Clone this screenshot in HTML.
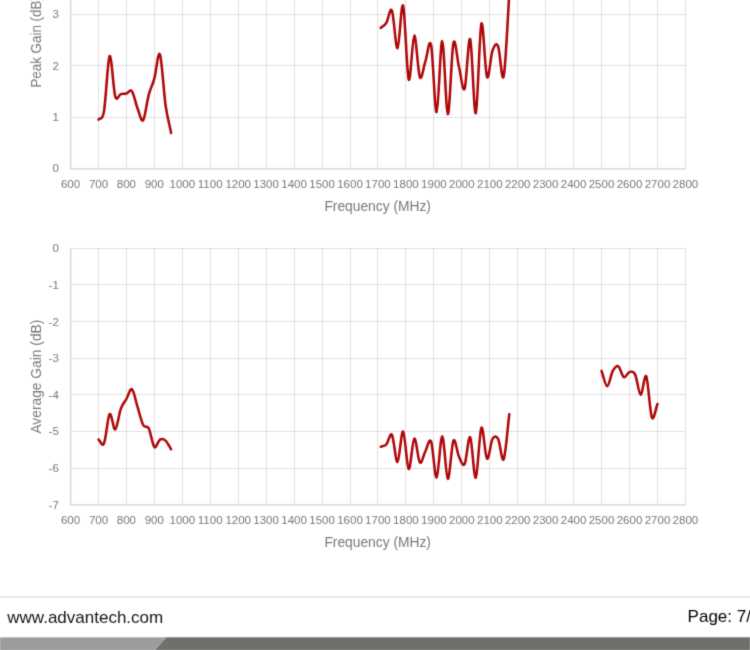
<!DOCTYPE html>
<html><head><meta charset="utf-8"><style>
html,body{margin:0;padding:0;background:#fff;width:750px;height:650px;overflow:hidden}
svg{position:absolute;left:0;top:0;display:block}
.lb{font-family:"Liberation Sans",sans-serif;font-size:11.5px;fill:#787878}
.tt{font-family:"Liberation Sans",sans-serif;font-size:13.8px;fill:#787878}
.ft{font-family:"Liberation Sans",sans-serif;font-size:17.0px}
</style></head><body>
<svg width="750" height="650" viewBox="0 0 750 650">
<defs><filter id="bl" x="-1%" y="-1%" width="102%" height="102%" color-interpolation-filters="sRGB"><feConvolveMatrix order="3" kernelMatrix="0.02 0.1 0.02 0.1 0.52 0.1 0.02 0.1 0.02" preserveAlpha="false" edgeMode="duplicate"/></filter></defs>
<g filter="url(#bl)"><rect x="-10" y="-10" width="770" height="670" fill="#fff"/>
<line x1="98.5" y1="-50" x2="98.5" y2="168.5" stroke="#e0e0e0" stroke-width="1"/><line x1="126.5" y1="-50" x2="126.5" y2="168.5" stroke="#e0e0e0" stroke-width="1"/><line x1="154.5" y1="-50" x2="154.5" y2="168.5" stroke="#e0e0e0" stroke-width="1"/><line x1="182.5" y1="-50" x2="182.5" y2="168.5" stroke="#e0e0e0" stroke-width="1"/><line x1="210.5" y1="-50" x2="210.5" y2="168.5" stroke="#e0e0e0" stroke-width="1"/><line x1="238.5" y1="-50" x2="238.5" y2="168.5" stroke="#e0e0e0" stroke-width="1"/><line x1="266.5" y1="-50" x2="266.5" y2="168.5" stroke="#e0e0e0" stroke-width="1"/><line x1="294.5" y1="-50" x2="294.5" y2="168.5" stroke="#e0e0e0" stroke-width="1"/><line x1="322.5" y1="-50" x2="322.5" y2="168.5" stroke="#e0e0e0" stroke-width="1"/><line x1="350.5" y1="-50" x2="350.5" y2="168.5" stroke="#e0e0e0" stroke-width="1"/><line x1="377.5" y1="-50" x2="377.5" y2="168.5" stroke="#e0e0e0" stroke-width="1"/><line x1="405.5" y1="-50" x2="405.5" y2="168.5" stroke="#e0e0e0" stroke-width="1"/><line x1="433.5" y1="-50" x2="433.5" y2="168.5" stroke="#e0e0e0" stroke-width="1"/><line x1="461.5" y1="-50" x2="461.5" y2="168.5" stroke="#e0e0e0" stroke-width="1"/><line x1="489.5" y1="-50" x2="489.5" y2="168.5" stroke="#e0e0e0" stroke-width="1"/><line x1="517.5" y1="-50" x2="517.5" y2="168.5" stroke="#e0e0e0" stroke-width="1"/><line x1="545.5" y1="-50" x2="545.5" y2="168.5" stroke="#e0e0e0" stroke-width="1"/><line x1="573.5" y1="-50" x2="573.5" y2="168.5" stroke="#e0e0e0" stroke-width="1"/><line x1="601.5" y1="-50" x2="601.5" y2="168.5" stroke="#e0e0e0" stroke-width="1"/><line x1="629.5" y1="-50" x2="629.5" y2="168.5" stroke="#e0e0e0" stroke-width="1"/><line x1="657.5" y1="-50" x2="657.5" y2="168.5" stroke="#e0e0e0" stroke-width="1"/><line x1="685.5" y1="-50" x2="685.5" y2="168.5" stroke="#e0e0e0" stroke-width="1"/><line x1="70.5" y1="117.5" x2="685.5" y2="117.5" stroke="#e0e0e0" stroke-width="1"/><line x1="70.5" y1="65.5" x2="685.5" y2="65.5" stroke="#e0e0e0" stroke-width="1"/><line x1="70.5" y1="14.5" x2="685.5" y2="14.5" stroke="#e0e0e0" stroke-width="1"/><line x1="70.5" y1="-36.5" x2="685.5" y2="-36.5" stroke="#e0e0e0" stroke-width="1"/><line x1="70.75" y1="-50" x2="70.75" y2="169.5" stroke="#d9d9d9" stroke-width="1.5"/><line x1="70" y1="168.75" x2="686.0" y2="168.75" stroke="#d9d9d9" stroke-width="1.5"/><text x="58.8" y="172.2" text-anchor="end" class="lb">0</text><text x="58.8" y="120.9" text-anchor="end" class="lb">1</text><text x="58.8" y="69.7" text-anchor="end" class="lb">2</text><text x="58.8" y="18.4" text-anchor="end" class="lb">3</text><text x="70.5" y="188.4" text-anchor="middle" class="lb">600</text><text x="98.5" y="188.4" text-anchor="middle" class="lb">700</text><text x="126.4" y="188.4" text-anchor="middle" class="lb">800</text><text x="154.3" y="188.4" text-anchor="middle" class="lb">900</text><text x="182.3" y="188.4" text-anchor="middle" class="lb">1000</text><text x="210.2" y="188.4" text-anchor="middle" class="lb">1100</text><text x="238.2" y="188.4" text-anchor="middle" class="lb">1200</text><text x="266.1" y="188.4" text-anchor="middle" class="lb">1300</text><text x="294.1" y="188.4" text-anchor="middle" class="lb">1400</text><text x="322.1" y="188.4" text-anchor="middle" class="lb">1500</text><text x="350.0" y="188.4" text-anchor="middle" class="lb">1600</text><text x="377.9" y="188.4" text-anchor="middle" class="lb">1700</text><text x="405.9" y="188.4" text-anchor="middle" class="lb">1800</text><text x="433.9" y="188.4" text-anchor="middle" class="lb">1900</text><text x="461.8" y="188.4" text-anchor="middle" class="lb">2000</text><text x="489.8" y="188.4" text-anchor="middle" class="lb">2100</text><text x="517.7" y="188.4" text-anchor="middle" class="lb">2200</text><text x="545.6" y="188.4" text-anchor="middle" class="lb">2300</text><text x="573.6" y="188.4" text-anchor="middle" class="lb">2400</text><text x="601.5" y="188.4" text-anchor="middle" class="lb">2500</text><text x="629.5" y="188.4" text-anchor="middle" class="lb">2600</text><text x="657.5" y="188.4" text-anchor="middle" class="lb">2700</text><text x="685.4" y="188.4" text-anchor="middle" class="lb">2800</text><text x="377.7" y="210.7" text-anchor="middle" class="tt">Frequency (MHz)</text><text transform="translate(41,87.6) rotate(-90)" x="0" y="0" class="tt" textLength="91.5" lengthAdjust="spacingAndGlyphs">Peak Gain (dB)</text><line x1="98.5" y1="248.5" x2="98.5" y2="504.5" stroke="#e0e0e0" stroke-width="1"/><line x1="126.5" y1="248.5" x2="126.5" y2="504.5" stroke="#e0e0e0" stroke-width="1"/><line x1="154.5" y1="248.5" x2="154.5" y2="504.5" stroke="#e0e0e0" stroke-width="1"/><line x1="182.5" y1="248.5" x2="182.5" y2="504.5" stroke="#e0e0e0" stroke-width="1"/><line x1="210.5" y1="248.5" x2="210.5" y2="504.5" stroke="#e0e0e0" stroke-width="1"/><line x1="238.5" y1="248.5" x2="238.5" y2="504.5" stroke="#e0e0e0" stroke-width="1"/><line x1="266.5" y1="248.5" x2="266.5" y2="504.5" stroke="#e0e0e0" stroke-width="1"/><line x1="294.5" y1="248.5" x2="294.5" y2="504.5" stroke="#e0e0e0" stroke-width="1"/><line x1="322.5" y1="248.5" x2="322.5" y2="504.5" stroke="#e0e0e0" stroke-width="1"/><line x1="350.5" y1="248.5" x2="350.5" y2="504.5" stroke="#e0e0e0" stroke-width="1"/><line x1="377.5" y1="248.5" x2="377.5" y2="504.5" stroke="#e0e0e0" stroke-width="1"/><line x1="405.5" y1="248.5" x2="405.5" y2="504.5" stroke="#e0e0e0" stroke-width="1"/><line x1="433.5" y1="248.5" x2="433.5" y2="504.5" stroke="#e0e0e0" stroke-width="1"/><line x1="461.5" y1="248.5" x2="461.5" y2="504.5" stroke="#e0e0e0" stroke-width="1"/><line x1="489.5" y1="248.5" x2="489.5" y2="504.5" stroke="#e0e0e0" stroke-width="1"/><line x1="517.5" y1="248.5" x2="517.5" y2="504.5" stroke="#e0e0e0" stroke-width="1"/><line x1="545.5" y1="248.5" x2="545.5" y2="504.5" stroke="#e0e0e0" stroke-width="1"/><line x1="573.5" y1="248.5" x2="573.5" y2="504.5" stroke="#e0e0e0" stroke-width="1"/><line x1="601.5" y1="248.5" x2="601.5" y2="504.5" stroke="#e0e0e0" stroke-width="1"/><line x1="629.5" y1="248.5" x2="629.5" y2="504.5" stroke="#e0e0e0" stroke-width="1"/><line x1="657.5" y1="248.5" x2="657.5" y2="504.5" stroke="#e0e0e0" stroke-width="1"/><line x1="685.5" y1="248.5" x2="685.5" y2="504.5" stroke="#e0e0e0" stroke-width="1"/><line x1="70.5" y1="248.5" x2="685.5" y2="248.5" stroke="#e0e0e0" stroke-width="1"/><line x1="70.5" y1="284.5" x2="685.5" y2="284.5" stroke="#e0e0e0" stroke-width="1"/><line x1="70.5" y1="321.5" x2="685.5" y2="321.5" stroke="#e0e0e0" stroke-width="1"/><line x1="70.5" y1="358.5" x2="685.5" y2="358.5" stroke="#e0e0e0" stroke-width="1"/><line x1="70.5" y1="394.5" x2="685.5" y2="394.5" stroke="#e0e0e0" stroke-width="1"/><line x1="70.5" y1="431.5" x2="685.5" y2="431.5" stroke="#e0e0e0" stroke-width="1"/><line x1="70.5" y1="468.5" x2="685.5" y2="468.5" stroke="#e0e0e0" stroke-width="1"/><line x1="70.75" y1="248.0" x2="70.75" y2="505.5" stroke="#d9d9d9" stroke-width="1.5"/><line x1="70" y1="504.75" x2="686.0" y2="504.75" stroke="#d9d9d9" stroke-width="1.5"/><text x="58.8" y="252.2" text-anchor="end" class="lb">0</text><text x="58.8" y="288.8" text-anchor="end" class="lb">-1</text><text x="58.8" y="325.5" text-anchor="end" class="lb">-2</text><text x="58.8" y="362.1" text-anchor="end" class="lb">-3</text><text x="58.8" y="398.7" text-anchor="end" class="lb">-4</text><text x="58.8" y="435.4" text-anchor="end" class="lb">-5</text><text x="58.8" y="472.0" text-anchor="end" class="lb">-6</text><text x="58.8" y="508.6" text-anchor="end" class="lb">-7</text><text x="70.5" y="524.4" text-anchor="middle" class="lb">600</text><text x="98.5" y="524.4" text-anchor="middle" class="lb">700</text><text x="126.4" y="524.4" text-anchor="middle" class="lb">800</text><text x="154.3" y="524.4" text-anchor="middle" class="lb">900</text><text x="182.3" y="524.4" text-anchor="middle" class="lb">1000</text><text x="210.2" y="524.4" text-anchor="middle" class="lb">1100</text><text x="238.2" y="524.4" text-anchor="middle" class="lb">1200</text><text x="266.1" y="524.4" text-anchor="middle" class="lb">1300</text><text x="294.1" y="524.4" text-anchor="middle" class="lb">1400</text><text x="322.1" y="524.4" text-anchor="middle" class="lb">1500</text><text x="350.0" y="524.4" text-anchor="middle" class="lb">1600</text><text x="377.9" y="524.4" text-anchor="middle" class="lb">1700</text><text x="405.9" y="524.4" text-anchor="middle" class="lb">1800</text><text x="433.9" y="524.4" text-anchor="middle" class="lb">1900</text><text x="461.8" y="524.4" text-anchor="middle" class="lb">2000</text><text x="489.8" y="524.4" text-anchor="middle" class="lb">2100</text><text x="517.7" y="524.4" text-anchor="middle" class="lb">2200</text><text x="545.6" y="524.4" text-anchor="middle" class="lb">2300</text><text x="573.6" y="524.4" text-anchor="middle" class="lb">2400</text><text x="601.5" y="524.4" text-anchor="middle" class="lb">2500</text><text x="629.5" y="524.4" text-anchor="middle" class="lb">2600</text><text x="657.5" y="524.4" text-anchor="middle" class="lb">2700</text><text x="685.4" y="524.4" text-anchor="middle" class="lb">2800</text><text x="377.7" y="546.7" text-anchor="middle" class="tt">Frequency (MHz)</text><text transform="translate(41,433.6) rotate(-90)" x="0" y="0" class="tt">Average Gain (dB)</text><path d="M98.5,119.7 C100.3,116.8 102.2,121.7 104.0,111.1 C105.9,100.5 107.8,58.6 109.6,56.1 C111.5,53.6 113.4,89.9 115.2,96.2 C117.1,102.5 118.9,94.5 120.8,94.1 C122.7,93.6 124.5,94.0 126.4,93.5 C128.3,93.0 130.1,88.9 132.0,91.4 C133.9,93.9 135.7,103.7 137.6,108.5 C139.4,113.3 141.3,122.5 143.2,120.2 C145.0,117.9 146.9,101.5 148.8,94.6 C150.6,87.7 152.5,85.3 154.3,78.6 C156.2,71.9 158.1,50.0 159.9,54.4 C161.8,58.8 163.7,91.7 165.5,104.8 C167.4,117.9 169.3,123.6 171.1,133.0" fill="none" stroke="#9a0204" stroke-width="2.5" stroke-linejoin="round" stroke-linecap="round"/><path d="M98.5,119.7 C100.3,116.8 102.2,121.7 104.0,111.1 C105.9,100.5 107.8,58.6 109.6,56.1 C111.5,53.6 113.4,89.9 115.2,96.2 C117.1,102.5 118.9,94.5 120.8,94.1 C122.7,93.6 124.5,94.0 126.4,93.5 C128.3,93.0 130.1,88.9 132.0,91.4 C133.9,93.9 135.7,103.7 137.6,108.5 C139.4,113.3 141.3,122.5 143.2,120.2 C145.0,117.9 146.9,101.5 148.8,94.6 C150.6,87.7 152.5,85.3 154.3,78.6 C156.2,71.9 158.1,50.0 159.9,54.4 C161.8,58.8 163.7,91.7 165.5,104.8 C167.4,117.9 169.3,123.6 171.1,133.0" fill="none" stroke="#cc0406" stroke-width="1.0" stroke-linejoin="round" stroke-linecap="round"/><path d="M380.7,28.0 C382.6,26.3 384.5,25.8 386.3,22.9 C388.2,20.0 390.1,6.3 391.9,10.5 C393.8,14.7 395.7,49.1 397.5,48.3 C399.4,47.5 401.2,0.6 403.1,5.8 C405.0,11.0 406.8,74.5 408.7,79.5 C410.6,84.5 412.4,36.0 414.3,35.6 C416.1,35.2 418.0,73.0 419.9,77.2 C421.7,81.4 423.6,66.3 425.5,61.0 C427.3,55.6 429.2,36.6 431.1,45.1 C432.9,53.6 434.8,112.9 436.6,112.2 C438.5,111.5 440.4,40.8 442.2,41.1 C444.1,41.4 446.0,113.9 447.8,114.2 C449.7,114.5 451.6,51.0 453.4,43.1 C455.3,35.2 457.1,59.4 459.0,67.0 C460.9,74.6 462.7,93.3 464.6,88.7 C466.5,84.1 468.3,35.2 470.2,39.3 C472.0,43.4 473.9,115.8 475.8,113.2 C477.6,110.6 479.5,29.9 481.4,23.8 C483.2,17.8 485.1,72.5 487.0,76.9 C488.8,81.4 490.7,55.6 492.5,50.5 C494.4,45.4 496.3,42.0 498.1,46.3 C500.0,50.6 501.9,84.9 503.7,76.2 C505.6,67.5 507.5,21.4 509.3,-6.0" fill="none" stroke="#9a0204" stroke-width="2.5" stroke-linejoin="round" stroke-linecap="round"/><path d="M380.7,28.0 C382.6,26.3 384.5,25.8 386.3,22.9 C388.2,20.0 390.1,6.3 391.9,10.5 C393.8,14.7 395.7,49.1 397.5,48.3 C399.4,47.5 401.2,0.6 403.1,5.8 C405.0,11.0 406.8,74.5 408.7,79.5 C410.6,84.5 412.4,36.0 414.3,35.6 C416.1,35.2 418.0,73.0 419.9,77.2 C421.7,81.4 423.6,66.3 425.5,61.0 C427.3,55.6 429.2,36.6 431.1,45.1 C432.9,53.6 434.8,112.9 436.6,112.2 C438.5,111.5 440.4,40.8 442.2,41.1 C444.1,41.4 446.0,113.9 447.8,114.2 C449.7,114.5 451.6,51.0 453.4,43.1 C455.3,35.2 457.1,59.4 459.0,67.0 C460.9,74.6 462.7,93.3 464.6,88.7 C466.5,84.1 468.3,35.2 470.2,39.3 C472.0,43.4 473.9,115.8 475.8,113.2 C477.6,110.6 479.5,29.9 481.4,23.8 C483.2,17.8 485.1,72.5 487.0,76.9 C488.8,81.4 490.7,55.6 492.5,50.5 C494.4,45.4 496.3,42.0 498.1,46.3 C500.0,50.6 501.9,84.9 503.7,76.2 C505.6,67.5 507.5,21.4 509.3,-6.0" fill="none" stroke="#cc0406" stroke-width="1.0" stroke-linejoin="round" stroke-linecap="round"/><path d="M98.5,439.5 C100.3,440.8 102.2,447.5 104.0,443.3 C105.9,439.1 107.8,416.4 109.6,414.1 C111.5,411.8 113.4,430.3 115.2,429.4 C117.1,428.5 118.9,414.0 120.8,408.9 C122.7,403.8 124.5,402.3 126.4,399.0 C128.3,395.7 130.1,387.8 132.0,389.2 C133.9,390.6 135.7,401.1 137.6,407.1 C139.4,413.1 141.3,421.4 143.2,425.0 C145.0,428.6 146.9,424.8 148.8,428.5 C150.6,432.2 152.5,445.1 154.3,447.0 C156.2,448.9 158.1,440.8 159.9,439.7 C161.8,438.6 163.7,439.0 165.5,440.6 C167.4,442.2 169.3,446.4 171.1,449.3" fill="none" stroke="#9a0204" stroke-width="2.5" stroke-linejoin="round" stroke-linecap="round"/><path d="M98.5,439.5 C100.3,440.8 102.2,447.5 104.0,443.3 C105.9,439.1 107.8,416.4 109.6,414.1 C111.5,411.8 113.4,430.3 115.2,429.4 C117.1,428.5 118.9,414.0 120.8,408.9 C122.7,403.8 124.5,402.3 126.4,399.0 C128.3,395.7 130.1,387.8 132.0,389.2 C133.9,390.6 135.7,401.1 137.6,407.1 C139.4,413.1 141.3,421.4 143.2,425.0 C145.0,428.6 146.9,424.8 148.8,428.5 C150.6,432.2 152.5,445.1 154.3,447.0 C156.2,448.9 158.1,440.8 159.9,439.7 C161.8,438.6 163.7,439.0 165.5,440.6 C167.4,442.2 169.3,446.4 171.1,449.3" fill="none" stroke="#cc0406" stroke-width="1.0" stroke-linejoin="round" stroke-linecap="round"/><path d="M380.7,446.8 C382.6,446.0 384.5,446.5 386.3,444.5 C388.2,442.5 390.1,431.9 391.9,434.8 C393.8,437.7 395.7,462.6 397.5,462.0 C399.4,461.4 401.2,430.3 403.1,431.5 C405.0,432.7 406.8,467.8 408.7,469.0 C410.6,470.2 412.4,439.6 414.3,438.5 C416.1,437.4 418.0,460.4 419.9,462.5 C421.7,464.6 423.6,454.5 425.5,451.0 C427.3,447.5 429.2,437.1 431.1,441.5 C432.9,445.9 434.8,478.4 436.6,477.5 C438.5,476.6 440.4,436.0 442.2,436.2 C444.1,436.4 446.0,478.1 447.8,478.9 C449.7,479.6 451.6,444.4 453.4,440.7 C455.3,437.0 457.1,452.8 459.0,456.7 C460.9,460.6 462.7,467.3 464.6,464.1 C466.5,460.9 468.3,435.0 470.2,437.3 C472.0,439.6 473.9,479.3 475.8,477.7 C477.6,476.1 479.5,431.0 481.4,427.8 C483.2,424.6 485.1,456.8 487.0,458.6 C488.8,460.5 490.7,442.2 492.5,438.9 C494.4,435.6 496.3,435.5 498.1,438.9 C500.0,442.3 501.9,463.3 503.7,459.2 C505.6,455.1 507.5,429.2 509.3,414.2" fill="none" stroke="#9a0204" stroke-width="2.5" stroke-linejoin="round" stroke-linecap="round"/><path d="M380.7,446.8 C382.6,446.0 384.5,446.5 386.3,444.5 C388.2,442.5 390.1,431.9 391.9,434.8 C393.8,437.7 395.7,462.6 397.5,462.0 C399.4,461.4 401.2,430.3 403.1,431.5 C405.0,432.7 406.8,467.8 408.7,469.0 C410.6,470.2 412.4,439.6 414.3,438.5 C416.1,437.4 418.0,460.4 419.9,462.5 C421.7,464.6 423.6,454.5 425.5,451.0 C427.3,447.5 429.2,437.1 431.1,441.5 C432.9,445.9 434.8,478.4 436.6,477.5 C438.5,476.6 440.4,436.0 442.2,436.2 C444.1,436.4 446.0,478.1 447.8,478.9 C449.7,479.6 451.6,444.4 453.4,440.7 C455.3,437.0 457.1,452.8 459.0,456.7 C460.9,460.6 462.7,467.3 464.6,464.1 C466.5,460.9 468.3,435.0 470.2,437.3 C472.0,439.6 473.9,479.3 475.8,477.7 C477.6,476.1 479.5,431.0 481.4,427.8 C483.2,424.6 485.1,456.8 487.0,458.6 C488.8,460.5 490.7,442.2 492.5,438.9 C494.4,435.6 496.3,435.5 498.1,438.9 C500.0,442.3 501.9,463.3 503.7,459.2 C505.6,455.1 507.5,429.2 509.3,414.2" fill="none" stroke="#cc0406" stroke-width="1.0" stroke-linejoin="round" stroke-linecap="round"/><path d="M601.5,370.9 C603.4,376.0 605.3,386.1 607.1,386.2 C609.0,386.2 610.9,374.5 612.7,371.2 C614.6,367.9 616.5,365.3 618.3,366.3 C620.2,367.3 622.0,376.2 623.9,377.1 C625.8,378.1 627.6,372.4 629.5,372.0 C631.4,371.6 633.2,370.6 635.1,374.4 C637.0,378.2 638.8,394.4 640.7,394.8 C642.5,395.2 644.4,372.7 646.3,376.5 C648.1,380.3 650.0,412.9 651.9,417.5 C653.7,422.1 655.6,408.5 657.5,404.0" fill="none" stroke="#9a0204" stroke-width="2.5" stroke-linejoin="round" stroke-linecap="round"/><path d="M601.5,370.9 C603.4,376.0 605.3,386.1 607.1,386.2 C609.0,386.2 610.9,374.5 612.7,371.2 C614.6,367.9 616.5,365.3 618.3,366.3 C620.2,367.3 622.0,376.2 623.9,377.1 C625.8,378.1 627.6,372.4 629.5,372.0 C631.4,371.6 633.2,370.6 635.1,374.4 C637.0,378.2 638.8,394.4 640.7,394.8 C642.5,395.2 644.4,372.7 646.3,376.5 C648.1,380.3 650.0,412.9 651.9,417.5 C653.7,422.1 655.6,408.5 657.5,404.0" fill="none" stroke="#cc0406" stroke-width="1.0" stroke-linejoin="round" stroke-linecap="round"/><rect x="0" y="596.1" width="750" height="1.8" fill="#e6e6e6"/><text x="7.3" y="622.5" class="ft" fill="#151515">www.advantech.com</text><text x="687.6" y="622.3" class="ft" fill="#000">Page: 7/</text><rect x="0" y="637.4" width="750" height="13" fill="#9c9c9c"/><polygon points="166.4,637.4 750,637.4 750,650 155.2,650" fill="#6f6f6b"/><line x1="165.6" y1="637.4" x2="154.4" y2="650" stroke="#adadad" stroke-width="1"/></g>
</svg>
</body></html>
